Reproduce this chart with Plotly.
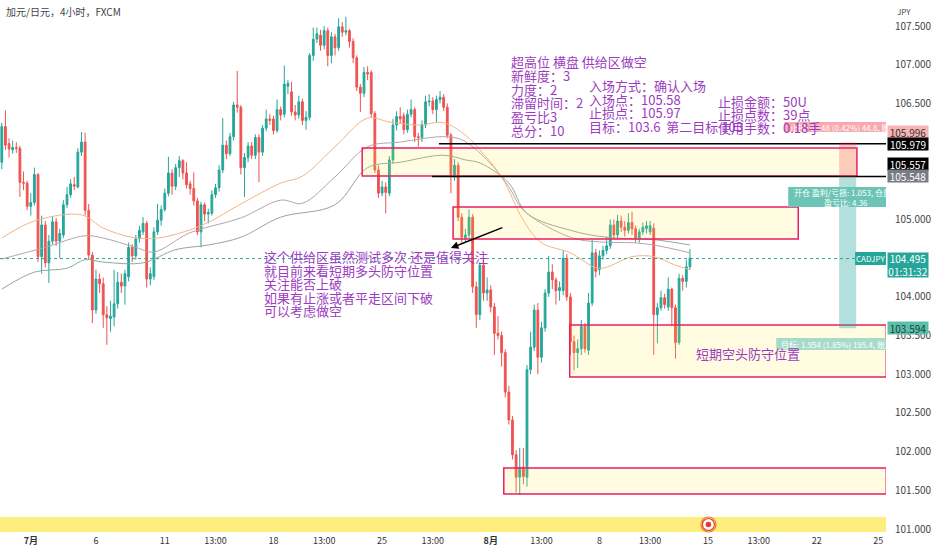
import plotly.graph_objects as go

# CADJPY 4h, FXCM, bar 0 = first visible bar (30 Jun 2022), one bar per 4 hours
open_ = [
    105.74, 106.20, 105.98, 105.90, 105.93, 105.92, 105.48, 105.47, 105.17, 105.22,
    105.58, 104.52, 104.93, 104.44, 104.72, 104.97, 104.72, 104.80, 105.19, 105.32,
    105.45, 105.42, 105.87, 106.00, 105.12, 104.54, 103.83, 104.23, 104.17, 103.77,
    103.72, 103.74, 103.91, 104.19, 104.14, 104.26, 104.64, 104.53, 104.75, 104.84,
    104.95, 104.23, 104.26, 104.84, 104.99, 105.13, 105.34, 105.60, 105.43, 105.67,
    105.76, 105.60, 105.46, 105.40, 105.24, 104.84, 105.19, 105.07, 105.08, 105.32,
    105.41, 105.64, 105.96, 105.85, 106.07, 106.48, 106.45, 105.67, 105.80, 105.95,
    105.83, 106.06, 105.87, 106.18, 106.30, 106.30, 106.15, 106.42, 106.36, 106.72,
    106.65, 106.39, 106.35, 106.52, 106.28, 106.32, 107.12, 107.33, 107.38, 107.25,
    107.44, 107.12, 107.36, 107.22, 107.49, 107.42, 107.44, 107.30, 107.09, 106.71,
    106.63, 106.90, 106.90, 106.37, 105.64, 105.34, 105.42, 105.34, 105.77, 106.22,
    106.33, 106.34, 106.16, 106.36, 106.42, 106.07, 106.06, 106.22, 106.52, 106.53,
    106.42, 106.55, 106.58, 106.45, 106.09, 105.57, 105.70, 105.03, 104.76, 104.80,
    105.03, 104.13, 103.77, 104.41, 104.05, 104.09, 103.87, 103.53, 103.50, 103.28,
    102.77, 102.41, 101.96, 101.67, 101.80, 101.67, 103.06, 103.35, 103.83, 103.22,
    103.60, 104.05, 104.32, 104.22, 104.08, 104.08, 104.50, 104.00, 103.42, 103.28,
    103.33, 103.62, 103.31, 103.92, 104.57, 104.35, 104.53, 104.60, 104.66, 104.93,
    104.80, 104.98, 104.90, 104.86, 104.96, 104.88, 104.76, 104.84, 104.88, 104.84,
    104.89, 103.77, 103.86, 103.99, 103.87, 104.10, 103.86, 103.41, 104.24, 104.20,
    104.39,
]
high = [
    106.25, 106.41, 106.05, 106.02, 106.00, 105.95, 105.62, 105.50, 105.34, 105.67,
    105.60, 105.05, 104.98, 104.80, 105.04, 105.02, 104.88, 105.25, 105.42, 105.52,
    105.55, 105.92, 106.13, 106.12, 105.20, 104.58, 104.35, 104.30, 104.25, 103.88,
    103.95, 104.35, 104.32, 104.30, 104.35, 104.70, 104.68, 104.80, 104.92, 105.03,
    104.98, 104.38, 104.90, 105.20, 105.18, 105.40, 105.81, 105.65, 105.72, 105.82,
    105.78, 105.74, 105.50, 105.61, 105.28, 105.23, 105.22, 105.14, 105.38, 105.46,
    105.70, 106.31, 106.02, 106.12, 106.52, 106.92, 106.48, 105.86, 106.00, 106.00,
    106.10, 106.10, 106.22, 106.42, 106.36, 106.34, 106.55, 106.46, 106.99, 106.80,
    106.78, 106.48, 106.60, 106.56, 106.40, 107.15, 107.48, 107.48, 107.45, 107.50,
    107.48, 107.42, 107.40, 107.60, 107.55, 107.62, 107.46, 107.34, 107.12, 106.75,
    106.97, 106.98, 106.93, 106.40, 105.70, 105.50, 105.48, 105.82, 106.30, 106.40,
    106.45, 106.38, 106.42, 106.55, 106.45, 106.12, 106.28, 106.60, 106.62, 106.58,
    106.60, 106.66, 106.62, 106.50, 106.12, 105.78, 105.74, 105.08, 104.88, 105.13,
    105.07, 104.20, 104.45, 104.48, 104.25, 104.15, 103.92, 103.75, 103.55, 103.32,
    102.85, 102.46, 102.02, 102.05, 102.05, 103.12, 103.55, 103.90, 103.92, 103.68,
    104.10, 104.53, 104.42, 104.25, 104.20, 104.60, 104.55, 104.05, 103.50, 103.45,
    103.70, 103.66, 104.05, 104.74, 104.62, 104.60, 104.66, 104.78, 105.00, 105.00,
    105.06, 105.05, 104.98, 105.08, 105.10, 104.92, 104.88, 104.96, 104.98, 104.98,
    104.95, 103.92, 104.08, 104.04, 104.25, 104.12, 103.90, 104.30, 104.28, 104.48,
    104.62,
]
low = [
    105.65, 105.90, 105.80, 105.85, 105.86, 105.29, 105.38, 105.12, 105.05, 105.18,
    104.45, 104.30, 104.38, 104.18, 104.68, 104.66, 104.50, 104.76, 105.15, 105.28,
    105.38, 105.40, 105.82, 105.05, 104.48, 103.66, 103.78, 104.05, 103.60, 103.38,
    103.55, 103.62, 103.85, 104.05, 103.90, 104.20, 104.45, 104.48, 104.70, 104.80,
    104.12, 104.15, 104.22, 104.80, 104.92, 105.10, 105.30, 105.32, 105.38, 105.55,
    105.52, 105.40, 105.32, 105.18, 104.80, 104.64, 104.98, 104.95, 105.05, 105.28,
    105.36, 105.60, 105.78, 105.82, 106.02, 106.38, 105.58, 105.29, 105.74, 105.78,
    105.78, 105.48, 105.82, 106.14, 106.22, 106.10, 106.12, 106.28, 106.32, 106.62,
    106.34, 106.28, 106.30, 106.22, 106.16, 106.28, 107.05, 107.28, 107.18, 107.20,
    106.98, 107.02, 107.12, 107.18, 107.36, 107.38, 107.22, 107.02, 106.66, 106.39,
    106.58, 106.80, 106.32, 105.60, 105.28, 105.30, 105.08, 105.30, 105.72, 106.15,
    106.24, 106.10, 106.12, 106.32, 106.00, 105.94, 106.00, 106.18, 106.46, 106.36,
    106.25, 106.50, 106.40, 106.05, 105.34, 105.50, 104.98, 104.70, 104.70, 104.75,
    104.05, 103.60, 103.70, 103.95, 103.95, 103.80, 103.25, 103.45, 103.10, 102.70,
    102.35, 101.90, 101.47, 101.44, 101.58, 101.55, 103.00, 103.30, 103.00, 103.15,
    103.55, 104.00, 104.10, 103.90, 103.95, 104.02, 103.95, 103.25, 103.05, 103.08,
    103.25, 103.28, 103.25, 103.88, 104.25, 104.28, 104.48, 104.55, 104.62, 104.75,
    104.74, 104.84, 104.78, 104.82, 104.80, 104.70, 104.70, 104.80, 104.82, 104.80,
    103.25, 103.40, 103.82, 103.85, 103.82, 103.62, 103.20, 103.38, 104.08, 104.12,
    104.35,
]
close = [
    106.20, 105.96, 105.91, 105.93, 105.92, 105.48, 105.47, 105.17, 105.22, 105.58,
    104.52, 104.93, 104.44, 104.72, 104.97, 104.72, 104.82, 105.19, 105.32, 105.46,
    105.43, 105.87, 106.00, 105.12, 104.54, 103.83, 104.23, 104.17, 103.77, 103.73,
    103.75, 103.91, 104.19, 104.14, 104.30, 104.64, 104.53, 104.75, 104.86, 104.95,
    104.23, 104.30, 104.84, 104.99, 105.13, 105.34, 105.60, 105.43, 105.67, 105.76,
    105.60, 105.45, 105.40, 105.24, 104.84, 105.19, 105.07, 105.09, 105.32, 105.41,
    105.64, 105.96, 105.85, 106.07, 106.48, 106.45, 105.67, 105.80, 105.95, 105.83,
    106.06, 105.87, 106.18, 106.30, 106.28, 106.15, 106.42, 106.35, 106.75, 106.76,
    106.39, 106.35, 106.52, 106.28, 106.32, 107.12, 107.33, 107.40, 107.25, 107.44,
    107.12, 107.36, 107.22, 107.49, 107.42, 107.44, 107.30, 107.09, 106.71, 106.63,
    106.90, 106.88, 106.37, 105.64, 105.34, 105.42, 105.35, 105.77, 106.22, 106.33,
    106.30, 106.16, 106.36, 106.42, 106.07, 106.06, 106.22, 106.52, 106.53, 106.42,
    106.55, 106.58, 106.45, 106.09, 105.57, 105.70, 105.03, 104.77, 104.80, 105.03,
    104.13, 103.77, 104.41, 104.05, 104.09, 103.87, 103.53, 103.50, 103.28, 102.77,
    102.41, 101.96, 101.67, 101.80, 101.68, 103.06, 103.35, 103.83, 103.22, 103.60,
    104.05, 104.32, 104.22, 104.08, 104.12, 104.50, 104.00, 103.42, 103.28, 103.33,
    103.62, 103.33, 103.92, 104.57, 104.33, 104.53, 104.60, 104.66, 104.93, 104.80,
    104.98, 104.90, 104.86, 104.96, 104.88, 104.76, 104.84, 104.90, 104.92, 104.92,
    103.77, 103.86, 103.99, 103.90, 104.10, 103.86, 103.41, 104.24, 104.20, 104.39,
    104.50,
]
bars = list(range(len(close)))

# moving averages at some bars
ma_fast_bar = [0, 9, 22, 28, 36, 43, 55, 66, 77, 83, 92, 101, 107, 115, 122, 128, 132, 138, 144, 149, 157, 165, 174, 180, 186, 190]
ma_fast = [104.76, 104.98, 105.06, 104.89, 104.77, 104.76, 104.92, 105.20, 105.47, 105.56, 105.94, 106.31, 106.26, 106.22,
           106.25, 106.09, 105.90, 105.55, 104.99, 104.70, 104.57, 104.37, 104.52, 104.52, 104.41, 104.35]
ma_mid_bar = [0, 12, 23, 28, 37, 42, 52, 66, 77, 83, 92, 101, 110, 122, 127, 134, 140, 144, 157, 165, 174, 180, 190]
ma_mid = [104.49, 104.64, 104.79, 104.76, 104.64, 104.58, 104.83, 105.02, 105.25, 105.21, 105.55, 105.94, 106.00, 106.07,
          106.03, 105.77, 105.42, 105.12, 104.77, 104.71, 104.70, 104.67, 104.57]
ma_slow_bar = [0, 9, 18, 23, 28, 39, 48, 57, 66, 77, 92, 101, 110, 122, 128, 132, 140, 145, 157, 167, 180, 190]
ma_slow = [104.10, 104.32, 104.37, 104.48, 104.45, 104.44, 104.61, 104.67, 104.77, 105.03, 105.19, 105.67, 105.74, 105.83,
           105.77, 105.73, 105.47, 105.08, 104.86, 104.77, 104.74, 104.67]

# supply / demand zones: start bar, end bar, top, bottom
zone_start = [99.5, 124.6, 156.8, 138.6]
zone_end = [236.1, 219.9, 244.2, 244.2]
zone_top = [105.924, 105.161, 103.637, 101.789]
zone_bottom = [105.562, 104.748, 102.965, 101.454]

# horizontal lines and the short position tool
hline_start = [120.7, 118.8]
hline_price = [105.979, 105.557]
pos_entry, pos_stop, pos_target = 105.548, 105.996, 103.594
pos_bar0, pos_bar1 = 231.2, 235.9
last_price = 104.495

tick_pos = [8, 26, 45, 59, 75, 89, 105, 119, 135, 149, 165, 179, 195, 209, 225, 242]
tick_text = ["<b>7月</b>", "6", "11", "13:00", "18", "13:00", "25", "13:00",
             "<b>8月</b>", "13:00", "8", "13:00", "15", "13:00", "22", "25"]
y_ticks = [101.0, 101.5, 102.0, 102.5, 103.0, 103.5, 104.0, 105.0, 106.5, 107.0, 107.5]

PW, PH = 888, 532
FONT = "Noto Sans CJK SC, Roboto, sans-serif"
PURPLE = "#9c3cc0"
UP, DOWN = "#26a69a", "#ef5350"


def px(x):
    return x / PW


def py(y):
    return 1 - y / PH


fig = go.Figure()

for xs, ys, col in [(ma_slow_bar, ma_slow, "#8fa89d"), (ma_mid_bar, ma_mid, "#b7a3ad"), (ma_fast_bar, ma_fast, "#f4b483")]:
    fig.add_trace(go.Scatter(x=xs, y=ys, mode="lines", line=dict(color=col, width=1, shape="spline"),
                             hoverinfo="skip", showlegend=False))

fig.add_trace(go.Candlestick(
    x=bars, open=open_, high=high, low=low, close=close,
    increasing=dict(line=dict(color=UP, width=1), fillcolor=UP),
    decreasing=dict(line=dict(color=DOWN, width=1), fillcolor=DOWN),
    showlegend=False, hoverinfo="skip"))

shapes = []
for x0, x1, y0, y1 in zip(zone_start, zone_end, zone_top, zone_bottom):
    shapes.append(dict(type="rect", xref="x", yref="y", x0=x0, x1=x1, y0=y0, y1=y1,
                       fillcolor="rgba(255,235,59,0.15)", line=dict(color="#e91e63", width=1.5), layer="above"))
for x0, yv in zip(hline_start, hline_price):
    shapes.append(dict(type="line", xref="x", yref="y", x0=x0, x1=244.2, y0=yv, y1=yv,
                       line=dict(color="#000000", width=1.5), layer="above"))
# position tool
shapes.append(dict(type="rect", xref="x", yref="y", x0=pos_bar0, x1=pos_bar1, y0=pos_entry, y1=pos_stop,
                   fillcolor="rgba(242,54,69,0.25)", line=dict(width=0), layer="above"))
shapes.append(dict(type="rect", xref="x", yref="y", x0=pos_bar0, x1=pos_bar1, y0=pos_target, y1=pos_entry,
                   fillcolor="rgba(38,166,154,0.35)", line=dict(width=0), layer="above"))
# last price dotted line
shapes.append(dict(type="line", xref="paper", yref="y", x0=0, x1=1, y0=last_price, y1=last_price,
                   line=dict(color=UP, width=1, dash="dot"), layer="above"))
# label backgrounds of the position tool
shapes.append(dict(type="rect", xref="paper", yref="paper", x0=px(786), x1=1, y0=py(132), y1=py(122),
                   fillcolor="#f7a9ad", line=dict(width=0), layer="above"))
shapes.append(dict(type="rect", xref="paper", yref="paper", x0=px(790), x1=1, y0=py(207), y1=py(187),
                   fillcolor="#6cc4b6", line=dict(width=0), layer="above"))
shapes.append(dict(type="rect", xref="paper", yref="paper", x0=px(778), x1=1, y0=py(350), y1=py(338),
                   fillcolor="#a6dbc9", line=dict(width=0), layer="above"))
shapes.append(dict(type="rect", xref="paper", yref="paper", x0=px(857), x1=1, y0=py(265), y1=py(252),
                   fillcolor=UP, line=dict(width=0), layer="above"))
# events strip at the bottom
shapes.append(dict(type="rect", xref="paper", yref="paper", x0=0, x1=1, y0=0, y1=py(517),
                   fillcolor="#fdee7e", line=dict(width=0), layer="above"))
for r, fill, lc in [(7.5, "#ffffff", "#f57c00"), (6, "#ffffff", "#e53935"), (2.2, "#e53935", "#e53935")]:
    shapes.append(dict(type="circle", xref="paper", yref="paper", xsizemode="pixel", ysizemode="pixel",
                       xanchor=px(710), yanchor=py(524.5), x0=-r, x1=r, y0=-r, y1=r,
                       fillcolor=fill, line=dict(color=lc, width=1.2), layer="above"))

ann = []


def text(t, x, y, size=13, color=PURPLE, anchor="left"):
    ann.append(dict(text=t, xref="paper", yref="paper", x=px(x), y=py(y), xanchor=anchor, yanchor="middle",
                    showarrow=False, font=dict(family=FONT, size=size, color=color)))


ann.append(dict(x=124.0, y=104.632, ax=138.6, ay=104.903, xref="x", yref="y", axref="x", ayref="y",
                text="", showarrow=True, arrowhead=2, arrowsize=1, arrowwidth=1.5, arrowcolor="#000000"))

text("加元/日元，4小时，FXCM", 4, 12, size=10, color="#444444")

text("止损: 0.448 (0.42%) 44.8, 账户", 790, 127, size=8, color="#ffffff")
text("开仓 盈利/亏损: 1.053, 仓量", 794, 192, size=8, color="#ffffff")
text("盈亏比: 4.36", 848, 202, size=8, color="#ffffff", anchor="center")
text("目标: 1.954 (1.85%) 195.4, 账户", 781, 344, size=8, color="#ffffff")
text("CADJPY", 872, 258.5, size=8, color="#ffffff", anchor="center")

for i, t in enumerate(["超高位 横盘 供给区做空", "新鲜度：3", "力度：2", "滞留时间：2", "盈亏比3", "总分：10"]):
    text(t, 510, 62 + i * 13.6)
for i, t in enumerate(["入场方式：确认入场", "入场点：105.58", "止损点：105.97", "目标：103.6  第二目标 103"]):
    text(t, 588, 86 + i * 13.4)
for i, t in enumerate(["止损金额：50U", "止损点数：39点", "使用手数：0.18手"]):
    text(t, 718, 101 + i * 13.3)
for i, t in enumerate(["这个供给区虽然测试多次 还是值得关注", "就目前来看短期多头防守位置", "关注能否上破",
                       "如果有止涨或者平走区间下破", "可以考虑做空"]):
    text(t, 263, 257 + i * 13.4)
text("短期空头防守位置", 696, 353)

text("JPY", 897, 12, size=8, color="#444444")

# price-scale labels
for t, yp, bg, fg in [("105.996", 132, "#f7b4b7", "#333333"), ("105.979", 143.5, "#000000", "#ffffff"),
                      ("105.557", 164, "#000000", "#ffffff"), ("105.548", 176, "#787b86", "#ffffff"),
                      ("103.594", 328, "#5dbfa9", "#1b3d38")]:
    ann.append(dict(text=t, xref="paper", yref="paper", x=px(889), y=py(yp), xanchor="left", yanchor="middle",
                    showarrow=False, bgcolor=bg, width=40, height=12, borderpad=0,
                    font=dict(family=FONT, size=10, color=fg)))
ann.append(dict(text="104.495<br>01:31:32", xref="paper", yref="paper", x=px(889), y=py(252), xanchor="left",
                yanchor="top", showarrow=False, bgcolor=UP, width=40, height=24, borderpad=0,
                font=dict(family=FONT, size=10, color="#ffffff")))

fig.update_layout(
    width=932, height=550,
    margin=dict(l=0, r=44, t=0, b=18),
    paper_bgcolor="#ffffff", plot_bgcolor="#ffffff",
    font=dict(family=FONT, color="#333333"),
    showlegend=False,
    shapes=shapes, annotations=ann,
    xaxis=dict(range=[-0.5, 244.13], tickvals=tick_pos, ticktext=tick_text, showgrid=False, zeroline=False,
               ticks="", tickfont=dict(size=9, color="#333333"), ticklabelstandoff=2,
               rangeslider=dict(visible=False), fixedrange=True),
    yaxis=dict(range=[100.962, 107.836], side="right", tickvals=y_ticks, tickformat=".3f", showgrid=False,
               zeroline=False, ticks="", tickfont=dict(size=10, color="#444444"), ticklabelstandoff=8,
               fixedrange=True),
)

# the page's default body margin would push the figure 8px down and right
fig.write_html("out.html", config={"displayModeBar": False},
               post_script="document.body.style.margin='0';")
